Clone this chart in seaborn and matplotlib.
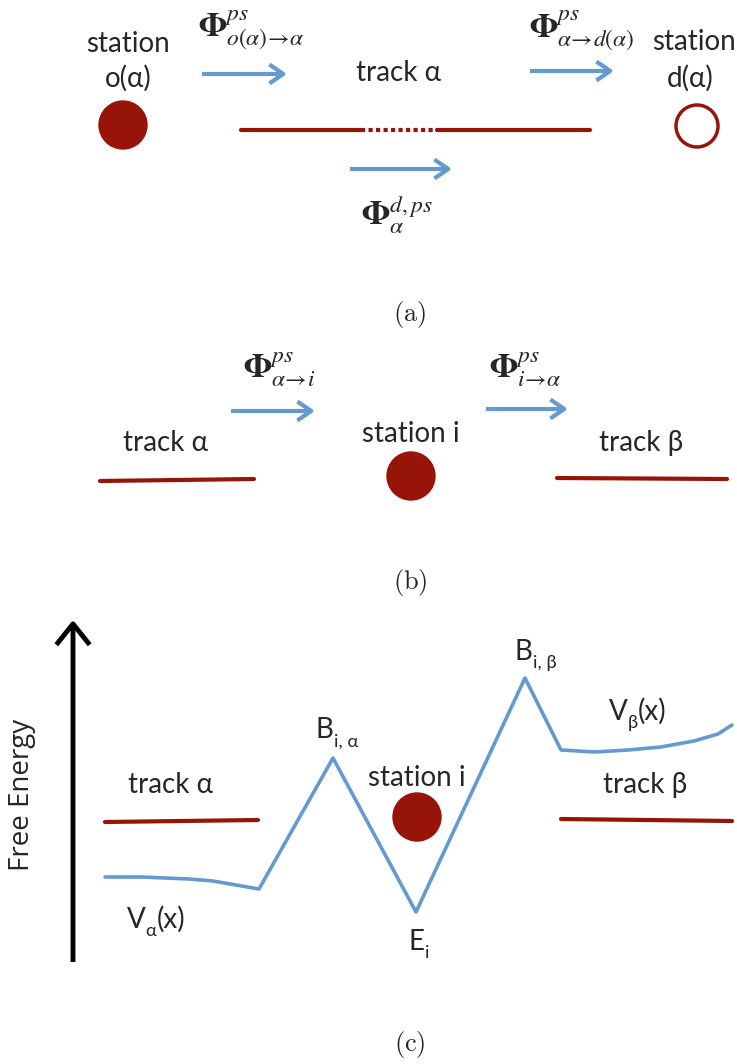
import matplotlib
matplotlib.use('Agg')
import matplotlib.pyplot as plt
import seaborn as sns
from matplotlib.patches import Circle

# colours
RED = '#961408'
BLUE = '#6499d2'
SANS = ['Lato', 'Noto Sans', 'DejaVu Sans']

# ---- panel (a): tracks and stations (pixel coordinates of the sketch)
a_origin = (123, 125)
a_dest = (697, 126)
a_track_x = [241, 361, 437, 590]      # solid | dotted | solid
a_track_y = [130, 130, 130, 130]
a_arrow_start = [(202, 74), (530, 71), (350, 169)]
a_arrow_end = [(287, 74), (614, 71), (452, 169)]
a_flux_labels = [r'$\mathbf{\Phi}^{ps}_{o(\alpha)\!\rightarrow\!\alpha}$',
                 r'$\mathbf{\Phi}^{ps}_{\alpha\!\rightarrow\! d(\alpha)}$',
                 r'$\mathbf{\Phi}^{d,ps}_{\alpha}$']
a_flux_pos = [(198, 30), (529, 30), (361, 215)]

# ---- panel (b)
b_track_left_x = [100, 254]
b_track_left_y = [481, 479]
b_track_right_x = [557, 727]
b_track_right_y = [478, 479]
b_station = (411, 476)
b_arrow_start = [(231, 411), (486, 409)]
b_arrow_end = [(315, 411), (568, 409)]
b_flux_labels = [r'$\mathbf{\Phi}^{ps}_{\alpha\!\rightarrow\! i}$',
                 r'$\mathbf{\Phi}^{ps}_{i\!\rightarrow\!\alpha}$']
b_flux_pos = [(243, 369), (489, 369)]

# ---- panel (c): free energy profile
energy_x = [105, 142, 165, 189, 213, 236, 259,
            333, 416, 525,
            561, 595, 628, 661, 694, 718, 732]
energy_y = [877, 877, 878, 879, 881, 885, 889,
            758, 912, 678,
            750, 752, 750, 747, 741, 734, 725]
c_track_left_x = [105, 258]
c_track_left_y = [822, 820]
c_track_right_x = [561, 732]
c_track_right_y = [819, 821]
c_station = (417, 817)
c_axis_x = [73, 73]
c_axis_y = [962, 620]

panel_tags = ['(a)', '(b)', '(c)']
panel_tag_y = [314, 583, 1045]

sns.set_theme(style='white')
plt.rcParams['font.family'] = SANS

fig = plt.figure(figsize=(7.37, 10.64), dpi=100)
ax = fig.add_axes([0, 0, 1, 1])
ax.set_xlim(0, 737)
ax.set_ylim(1064, 0)
ax.axis('off')
renderer = fig.canvas.get_renderer()


def track(xs, ys, **kw):
    sns.lineplot(x=xs, y=ys, ax=ax, color=RED, linewidth=3, sort=False,
                 estimator=None, **kw)


def arrow(p0, p1, color=BLUE, lw=3, hl=0.5, hw=0.34):
    ax.annotate('', xy=p1, xytext=p0,
                arrowprops=dict(arrowstyle=f'->,head_length={hl},head_width={hw}',
                                color=color, lw=lw, mutation_scale=20,
                                shrinkA=0, shrinkB=0, capstyle='butt'))


def label(x, y, s, size=20, **kw):
    ax.text(x, y, s, fontsize=size, ha='center', va='center', **kw)


def sub_label(x, y, parts, size=20):
    # parts: (text, is_subscript); x is left edge, y the baseline
    for s, sub in parts:
        fs = size * 0.66 if sub else size
        dy = size * 0.42 if sub else 0
        t = ax.text(x, y + dy, s, fontsize=fs, ha='left', va='baseline')
        x += t.get_window_extent(renderer).width


def flux(pos, s, size=24):
    ax.text(pos[0], pos[1], s, fontsize=size, ha='left', va='center',
            math_fontfamily='stix')


# panel (a)
track(a_track_x[:2], a_track_y[:2])
track(a_track_x[1:3], a_track_y[1:3], linestyle=(0, (1, 0.8)))
track(a_track_x[2:], a_track_y[2:])
ax.add_patch(Circle(a_origin, 24, color=RED, zorder=3))
ax.add_patch(Circle(a_dest, 21, facecolor='white', edgecolor=RED, lw=2.5, zorder=3))
for p0, p1 in zip(a_arrow_start, a_arrow_end):
    arrow(p0, p1)
for pos, s in zip(a_flux_pos, a_flux_labels):
    flux(pos, s)
label(128, 44, 'station')
label(128, 78, 'o(α)')
label(399, 73, 'track α')
label(694, 42, 'station')
label(690, 78, 'd(α)')

# panel (b)
track(b_track_left_x, b_track_left_y)
track(b_track_right_x, b_track_right_y)
ax.add_patch(Circle(b_station, 24, color=RED, zorder=3))
for p0, p1 in zip(b_arrow_start, b_arrow_end):
    arrow(p0, p1)
for pos, s in zip(b_flux_pos, b_flux_labels):
    flux(pos, s)
label(166, 443, 'track α')
label(411, 434, 'station i')
label(641, 443, 'track β')

# panel (c)
sns.lineplot(x=energy_x, y=energy_y, ax=ax, color=BLUE, linewidth=2.6,
             sort=False, estimator=None)
track(c_track_left_x, c_track_left_y)
track(c_track_right_x, c_track_right_y)
ax.add_patch(Circle(c_station, 24, color=RED, zorder=3))
arrow((c_axis_x[0], c_axis_y[0]), (c_axis_x[1], c_axis_y[1]), color='black',
      lw=3.5, hl=0.75, hw=0.6)
ax.text(22, 795, 'Free Energy', fontsize=20, rotation=90, ha='center',
        va='center', family=['Open Sans', 'DejaVu Sans'])
label(171, 785, 'track α')
label(417, 778, 'station i')
label(645, 785, 'track β')
sub_label(316, 738, [('B', False), ('i, α', True)])
sub_label(515, 660, [('B', False), ('i, β', True)])
sub_label(609, 720, [('V', False), ('β', True), ('(x)', False)])
sub_label(127, 928, [('V', False), ('α', True), ('(x)', False)])
sub_label(409, 950, [('E', False), ('i', True)])

for tag, y in zip(panel_tags, panel_tag_y):
    ax.text(410, y, r'$\mathrm{%s}$' % tag, fontsize=19, ha='center',
            va='center', math_fontfamily='cm')

fig.savefig('out.png', dpi=100)
